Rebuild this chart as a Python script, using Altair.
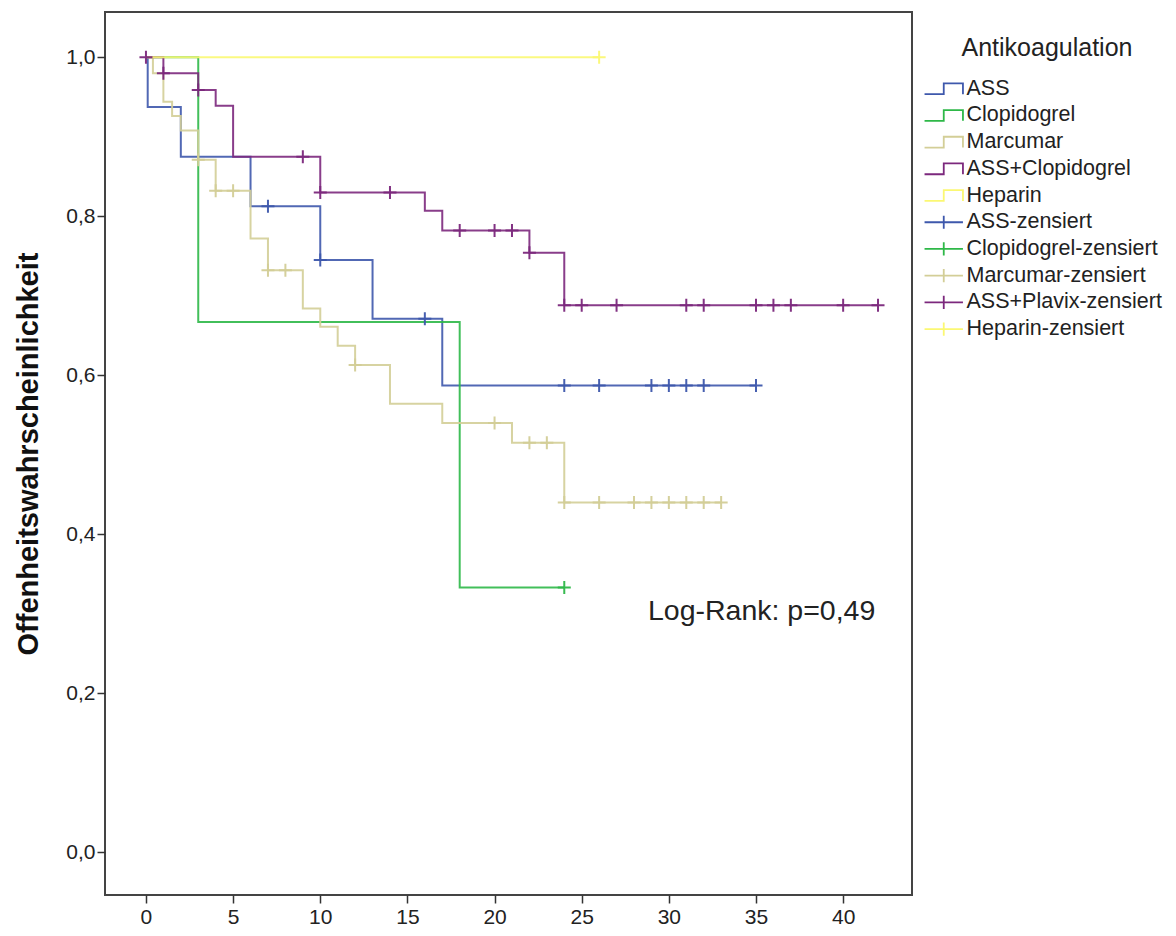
import altair as alt
import pandas as pd
import numpy as np

FONT = "Liberation Sans"

# ---- data (time in months, survival probability) ----
groups = ["ASS", "Clopidogrel", "Marcumar", "ASS+Clopidogrel", "Heparin"]
censor_labels = ["ASS-zensiert", "Clopidogrel-zensiert", "Marcumar-zensiert",
                 "ASS+Plavix-zensiert", "Heparin-zensiert"]
colors = ["#3E58AC", "#2EB848", "#D3CE97", "#7C287D", "#FBF873"]

ass_t = [0, 0.1, 2, 6, 10, 13, 17, 35]
ass_s = [1.0, 0.9375, 0.875, 0.8125, 0.745, 0.671, 0.587, 0.587]
ass_c = [7, 10, 16, 24, 26, 29, 30, 31, 32, 35]

clop_t = [0, 3, 18, 24]
clop_s = [1.0, 0.667, 0.333, 0.333]
clop_c = [24]

marc_t = [0, 0.4, 1, 1.5, 2, 3, 4, 6, 7, 9, 10, 11, 12, 14, 17, 21, 24, 33]
marc_s = [1.0, 0.98, 0.944, 0.926, 0.908, 0.871, 0.832, 0.772, 0.732, 0.684,
          0.661, 0.637, 0.613, 0.564, 0.540, 0.515, 0.440, 0.440]
marc_c = [3, 4, 5, 7, 8, 12, 20, 22, 23, 24, 26, 28, 29, 30, 31, 32, 33]

comb_t = [0, 1, 3, 4, 5, 10, 16, 17, 22, 24, 42]
comb_s = [1.0, 0.980, 0.959, 0.939, 0.875, 0.830, 0.807, 0.782, 0.754, 0.688, 0.688]
comb_c = [0, 1, 3, 9, 10, 14, 18, 20, 21, 22, 24, 25, 27, 31, 32, 35, 36, 37, 40, 42]

hep_t = [0, 26]
hep_s = [1.0, 1.0]
hep_c = [26]

x_ticks = [0, 5, 10, 15, 20, 25, 30, 35, 40]
y_ticks = [0.0, 0.2, 0.4, 0.6, 0.8, 1.0]
annotation = "Log-Rank: p=0,49"

series = [
    (ass_t, ass_s, ass_c),
    (clop_t, clop_s, clop_c),
    (marc_t, marc_s, marc_c),
    (comb_t, comb_s, comb_c),
    (hep_t, hep_s, hep_c),
]

# ---- build tables ----
line_rows, cens_rows = [], []
draw_order = {"Heparin": 0, "Marcumar": 1, "ASS": 2, "Clopidogrel": 3, "ASS+Clopidogrel": 4}
for g, cl, col, (t, s, c) in zip(groups, censor_labels, colors, series):
    for ti, si in zip(t, s):
        line_rows.append({"group": g, "t": ti, "s": si, "col": col, "ord": draw_order[g]})
    ta = np.array(t)
    for ci in c:
        idx = int(np.searchsorted(ta, ci, side="right") - 1)
        cens_rows.append({"group": cl, "t": ci, "s": s[idx], "col": col})

lines_df = pd.DataFrame(line_rows)
cens_df = pd.DataFrame(cens_rows)

legend_labels = groups + censor_labels
legend_colors = colors + colors
step_glyph = "M-3.2,0.9L0,0.9L0,-0.9L3.2,-0.9L3.2,0.9"
cens_glyph = "M-3.2,0L3.2,0M0,-1.1L0,1.1"
legend_shapes = [step_glyph] * 5 + [cens_glyph] * 5
legend_df = pd.DataFrame({"label": legend_labels, "t": [0] * 10, "s": [1.0] * 10})

x_scale = alt.Scale(domain=[-2.35, 43.95], nice=False, zero=False)
y_scale = alt.Scale(domain=[-0.054, 1.057], nice=False, zero=False)

x_enc = alt.X("t:Q", scale=x_scale,
              axis=alt.Axis(values=x_ticks, title=None, grid=False, domain=False,
                            tickSize=8, tickColor="#333", tickWidth=1.5,
                            labelFont=FONT, labelFontSize=21, labelColor="#222",
                            labelPadding=3))
y_enc = alt.Y("s:Q", scale=y_scale,
              axis=alt.Axis(values=y_ticks, title="Offenheitswahrscheinlichkeit",
                            grid=False, domain=False, tickSize=8, tickColor="#333",
                            tickWidth=1.5, labelFont=FONT, labelFontSize=21,
                            labelColor="#222", labelPadding=2,
                            labelExpr="replace(format(datum.value, '.1f'), '.', ',')",
                            titleFont=FONT, titleFontSize=29, titleFontWeight="bold",
                            titleColor="#111", titleX=-77, titleY=441.5,
                            titleBaseline="middle", titleAngle=270))

lines = alt.Chart(lines_df).mark_line(interpolate="step-after", strokeWidth=2,
                                      opacity=0.9).encode(
    x=x_enc, y=y_enc,
    stroke=alt.Stroke("col:N", scale=None),
    detail="group:N",
    order="ord:Q",
)

cens = alt.Chart(cens_df).mark_point(shape="M-1,0L1,0M0,-1L0,1", size=169,
                                     filled=False, strokeWidth=2, opacity=0.95).encode(
    x="t:Q", y="s:Q",
    stroke=alt.Stroke("col:N", scale=None),
)

legend_layer = alt.Chart(legend_df).mark_point(filled=False, opacity=0).encode(
    x="t:Q", y="s:Q",
    color=alt.Color("label:N",
                    scale=alt.Scale(domain=legend_labels, range=legend_colors),
                    sort=legend_labels,
                    legend=alt.Legend(title="Antikoagulation", orient="none",
                                      legendX=828, legendY=24, padding=0,
                                      titleFont=FONT, titleFontSize=25,
                                      titleFontWeight="normal", titleColor="#222",
                                      titleAnchor="middle", titlePadding=17,
                                      labelFont=FONT, labelFontSize=21.5,
                                      labelColor="#222", labelOffset=12,
                                      labelLimit=400,
                                      symbolSize=144, symbolStrokeWidth=1.8,
                                      symbolOpacity=1, rowPadding=3.7)),
    shape=alt.Shape("label:N",
                    scale=alt.Scale(domain=legend_labels, range=legend_shapes),
                    sort=legend_labels),
)

text = alt.Chart(pd.DataFrame({"t": [28.8], "s": [0.303], "txt": [annotation]})).mark_text(
    align="left", baseline="middle", font=FONT, fontSize=28.5, color="#222"
).encode(x="t:Q", y="s:Q", text="txt:N")

chart = alt.layer(lines, cens, legend_layer, text).properties(
    width=807, height=883,
    autosize=alt.AutoSizeParams(type="none"),
    padding={"left": 97, "top": 4, "right": 256, "bottom": 33},
).configure(background="white").configure_view(stroke="#444", strokeWidth=2)

chart.save("out.html", embed_options={"renderer": "svg", "actions": False})
